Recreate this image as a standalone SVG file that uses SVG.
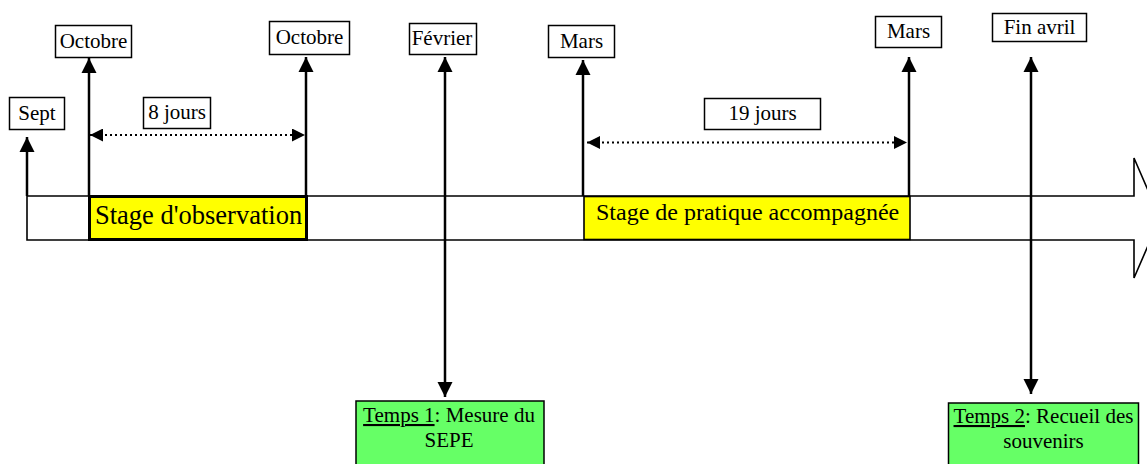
<svg xmlns="http://www.w3.org/2000/svg" width="1147" height="464" viewBox="0 0 1147 464">
  <style>
    .lbl { fill: #ffffff; stroke: #000000; stroke-width: 1.5; }
    .txt { font-family: "Liberation Serif", "Times New Roman", serif; font-size: 21px; fill: #000000; }
    .big { font-size: 26.5px; }
    .med { font-size: 24px; }
    .mid { text-anchor: middle; }
    .axis { stroke: #000000; stroke-width: 2.5; fill: none; }
    .dots { stroke: #000000; stroke-width: 2; stroke-dasharray: 2 3; fill: none; }
    .stage { fill: #ffff00; stroke: #000000; }
    .temps { fill: #66ff66; stroke: #000000; stroke-width: 1.5; }
  </style>
  <defs>
    <marker id="head" viewBox="0 0 10 10" refX="10" refY="5" markerWidth="6" markerHeight="6.4" markerUnits="strokeWidth" orient="auto-start-reverse">
      <path d="M0,0 L10,5 L0,10 z" fill="#000000"/>
    </marker>
    <marker id="headSmall" viewBox="0 0 10 10" refX="10" refY="5" markerWidth="8" markerHeight="6.5" markerUnits="strokeWidth" orient="auto-start-reverse">
      <path d="M0,0 L10,5 L0,10 z" fill="#000000"/>
    </marker>
  </defs>

  <!-- broad time arrow -->
  <g id="timeline">
    <path d="M27,196 H1134 V158 L1160,218 L1134,278 V240 H27 Z" fill="#ffffff" stroke="#000000" stroke-width="1.6"/>
  </g>

  <!-- training periods on the band -->
  <g id="stage-observation">
    <rect x="89.5" y="196.5" width="217" height="43" class="stage" stroke-width="3"/>
    <text x="95" y="224" class="txt big">Stage d'observation</text>
  </g>
  <g id="stage-pratique">
    <rect x="584" y="196.5" width="326" height="43" class="stage" stroke-width="1.6"/>
    <text x="596" y="220" class="txt med">Stage de pratique accompagnée</text>
  </g>

  <!-- connectors -->
  <g id="connectors">
    <line x1="27" y1="196" x2="27" y2="137" class="axis" marker-end="url(#head)"/>
    <line x1="89" y1="196" x2="89" y2="58" class="axis" marker-end="url(#head)"/>
    <line x1="306" y1="196" x2="306" y2="57" class="axis" marker-end="url(#head)"/>
    <line x1="445" y1="397" x2="445" y2="57" class="axis" marker-start="url(#head)" marker-end="url(#head)"/>
    <line x1="583" y1="196" x2="583" y2="60" class="axis" marker-end="url(#head)"/>
    <line x1="909" y1="196" x2="909" y2="57" class="axis" marker-end="url(#head)"/>
    <line x1="1031" y1="394" x2="1031" y2="57" class="axis" marker-start="url(#head)" marker-end="url(#head)"/>
    <line x1="90" y1="135" x2="305" y2="135" class="dots" marker-start="url(#headSmall)" marker-end="url(#headSmall)"/>
    <line x1="587" y1="142.5" x2="907" y2="142.5" class="dots" marker-start="url(#headSmall)" marker-end="url(#headSmall)"/>
  </g>

  <!-- date labels -->
  <g id="sept">
    <rect x="9.5" y="97.5" width="55" height="32" class="lbl"/>
    <text x="37" y="120" class="txt mid">Sept</text>
  </g>
  <g id="octobre-1">
    <rect x="55.5" y="25.5" width="76" height="32" class="lbl"/>
    <text x="93.5" y="48" class="txt mid">Octobre</text>
  </g>
  <g id="octobre-2">
    <rect x="269.5" y="21.5" width="80" height="33" class="lbl"/>
    <text x="309.5" y="44" class="txt mid">Octobre</text>
  </g>
  <g id="duree-8">
    <rect x="143.5" y="97.5" width="67" height="31" class="lbl"/>
    <text x="177" y="119" class="txt mid">8 jours</text>
  </g>
  <g id="fevrier">
    <rect x="409.5" y="23.5" width="67" height="31" class="lbl"/>
    <text x="442" y="45" class="txt mid">Février</text>
  </g>
  <g id="mars-1">
    <rect x="548.5" y="25.5" width="66" height="32" class="lbl"/>
    <text x="581.5" y="48" class="txt mid">Mars</text>
  </g>
  <g id="duree-19">
    <rect x="704.5" y="98.5" width="116" height="31" class="lbl"/>
    <text x="762.5" y="120" class="txt mid">19 jours</text>
  </g>
  <g id="mars-2">
    <rect x="875.5" y="16.5" width="66" height="31" class="lbl"/>
    <text x="908.5" y="38" class="txt mid">Mars</text>
  </g>
  <g id="fin-avril">
    <rect x="992.5" y="13.5" width="94" height="28" class="lbl"/>
    <text x="1039.5" y="34" class="txt mid">Fin avril</text>
  </g>

  <!-- measurement times -->
  <g id="temps-1">
    <rect x="356" y="401" width="188" height="70" class="temps"/>
    <text x="449" y="422" class="txt mid"><tspan text-decoration="underline">Temps 1</tspan>: Mesure du</text>
    <text x="449" y="447" class="txt mid">SEPE</text>
  </g>
  <g id="temps-2">
    <rect x="948.5" y="403" width="190" height="70" class="temps"/>
    <text x="1043.5" y="423" class="txt mid"><tspan text-decoration="underline">Temps 2</tspan>: Recueil des</text>
    <text x="1043.5" y="448" class="txt mid">souvenirs</text>
  </g>
</svg>
